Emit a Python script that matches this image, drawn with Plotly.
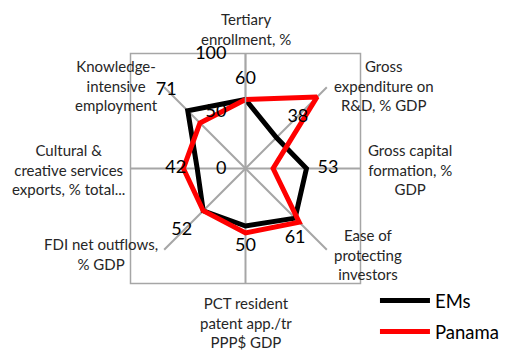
import math
import plotly.graph_objects as go

# axes of the radar, clockwise from the top
categories = [
    'Tertiary<br>enrollment, %',
    'Gross<br>expenditure on<br>R&D, % GDP',
    'Gross capital<br>formation, %<br>GDP',
    'Ease of<br>protecting<br>investors',
    'PCT resident<br>patent app./tr<br>PPP$ GDP',
    'FDI net outflows,<br>% GDP',
    'Cultural &<br>creative services<br>exports, % total...',
    'Knowledge-<br>intensive<br>employment',
]
ems = [60, 38, 53, 61, 50, 52, 42, 71]
panama = [60, 88, 24, 66, 56, 52, 54, 56]
radial_ticks = [0, 50, 100]

label_pos = ['top center', 'top right', 'middle right', 'bottom center',
             'bottom center', 'bottom left', 'middle left', 'top left']

font = 'Lato'
grid = '#a6a6a6'
# the page body has an 8px margin, so the figure is a bit smaller than the window
W, H = 502, 344
cx, cy, R = 237.5, 160.5, 115   # centre and radius of the radar, px from top-left

# close the polygons
theta = categories + categories[:1]

fig = go.Figure()
fig.add_trace(go.Scatterpolar(r=ems + ems[:1], theta=theta, mode='lines', name='EMs',
                              legendgroup='a', line=dict(color='black', width=5),
                              hoverinfo='skip'))
fig.add_trace(go.Scatterpolar(r=panama + panama[:1], theta=theta, mode='lines', name='Panama',
                              legendgroup='b', line=dict(color='#ff0000', width=5),
                              hoverinfo='skip'))
# data labels for EMs
fig.add_trace(go.Scatterpolar(r=ems, theta=categories, mode='markers+text',
                              text=[str(v) for v in ems], textposition=label_pos,
                              marker=dict(size=16, color='rgba(0,0,0,0)'),
                              textfont=dict(family=font, size=18, color='black'),
                              showlegend=False, hoverinfo='skip'))

dx = [(cx - R) / W, (cx + R) / W]
dy = [(H - cy - R) / H, (H - cy + R) / H]

# category labels around the radar, centred text blocks
annotations = []
for i, cat in enumerate(categories):
    a = math.radians(90 - 45 * i)
    c, s = math.cos(a), math.sin(a)
    ex, ey = cx + R * c, (H - cy) + R * s
    if abs(c) > 0.3:
        ax = ex + (5 if c > 0 else -4)
        ay = ey + (2 if s > 0.3 else (-4.5 if s < -0.3 else -1.5))
        xa, ya = ('left' if c > 0 else 'right'), 'middle'
    else:
        ax, ay = ex, ey + (3.5 if s > 0 else -8)
        xa, ya = 'center', ('bottom' if s > 0 else 'top')
    annotations.append(dict(text=cat, x=ax / W, y=ay / H, xref='paper', yref='paper',
                            xanchor=xa, yanchor=ya, align='center', showarrow=False,
                            font=dict(family=font, size=15, color='#262626')))

fig.update_layout(
    width=W, height=H, autosize=False,
    margin=dict(l=0, r=0, t=0, b=0),
    paper_bgcolor='white',
    font=dict(family=font, color='#262626'),
    polar=dict(
        domain=dict(x=dx, y=dy),
        bgcolor='rgba(0,0,0,0)',
        gridshape='linear',
        angularaxis=dict(rotation=90, direction='clockwise', showline=False,
                         showgrid=True, gridcolor=grid, gridwidth=1.5, ticks='',
                         showticklabels=False),
        radialaxis=dict(range=[0, 100], tickvals=radial_ticks, angle=90, tickangle=90,
                        side='counterclockwise', showgrid=False, showline=True,
                        linecolor=grid, linewidth=1.5, ticks='outside', ticklen=12,
                        tickcolor='rgba(0,0,0,0)',
                        tickfont=dict(family=font, size=18, color='black')),
    ),
    annotations=annotations,
    legend=dict(x=0.731, y=0.2035, xanchor='left', yanchor='top', itemwidth=50,
                font=dict(family=font, size=18.5, color='black'), tracegroupgap=4),
    shapes=[dict(type='rect', xref='paper', yref='paper', x0=dx[0], x1=dx[1],
                 y0=dy[0], y1=dy[1], line=dict(color=grid, width=1.5), layer='below')],
)

fig.write_html("out.html")
